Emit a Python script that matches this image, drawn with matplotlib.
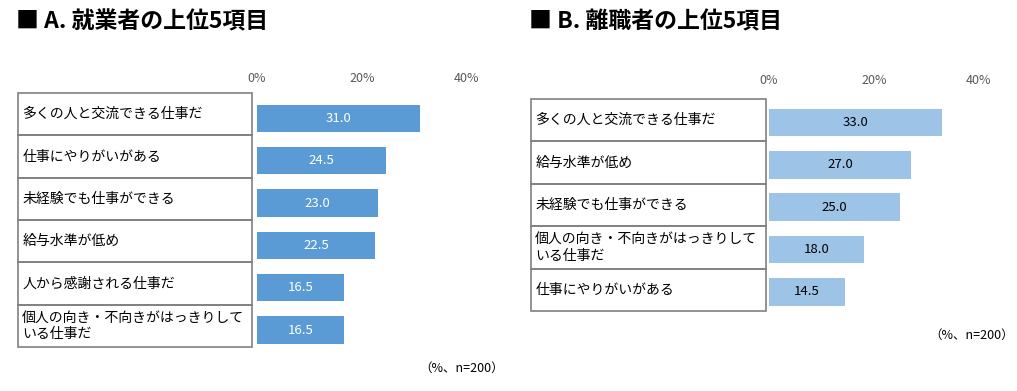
import matplotlib
matplotlib.use("Agg")
import matplotlib.pyplot as plt
from matplotlib.patches import Rectangle

plt.rcParams['font.family'] = ['Noto Sans CJK JP', 'DejaVu Sans']

W, H = 1017, 391

titles = ['■ A. 就業者の上位5項目', '■ B. 離職者の上位5項目']
a_labels = ['多くの人と交流できる仕事だ', '仕事にやりがいがある', '未経験でも仕事ができる',
            '給与水準が低め', '人から感謝される仕事だ', '個人の向き・不向きがはっきりして\nいる仕事だ']
a_values = [31.0, 24.5, 23.0, 22.5, 16.5, 16.5]
b_labels = ['多くの人と交流できる仕事だ', '給与水準が低め', '未経験でも仕事ができる',
            '個人の向き・不向きがはっきりして\nいる仕事だ', '仕事にやりがいがある']
b_values = [33.0, 27.0, 25.0, 18.0, 14.5]
ticks = [0, 20, 40]
tick_labels = ['0%', '20%', '40%']
note = '（%、n=200）'


def rect(x0, y0, x1, y1):
    return [x0 / W, 1 - y1 / H, (x1 - x0) / W, (y1 - y0) / H]


fig = plt.figure(figsize=(W / 100, H / 100), dpi=100)


def panel(title, labels, values, tbl, bars, color, txtcolor, offset, pad, title_x, note_xy):
    n = len(labels)
    # table of categories
    tax = fig.add_axes(rect(*tbl))
    tax.set_xlim(0, 1)
    tax.set_ylim(n, 0)
    tax.axis('off')
    for i, lab in enumerate(labels):
        tax.add_patch(Rectangle((0, i), 1, 1, fill=False, edgecolor='#808080', lw=1.2, clip_on=False))
        tax.text(0.018, i + 0.5, lab, va='center', ha='left', fontsize=10, color='#000000', linespacing=1.25)

    # bars
    bax = fig.add_axes(rect(*bars))
    y = [i + offset for i in range(n)]
    bax.barh(y, values, height=0.65, color=color)
    for yy, v in zip(y, values):
        bax.text(v / 2, yy, f'{v:.1f}', ha='center', va='center', fontsize=9.5, color=txtcolor)
    bax.set_xlim(0, 40)
    bax.set_ylim(n, 0)
    bax.xaxis.tick_top()
    bax.set_xticks(ticks)
    bax.set_xticklabels(tick_labels)
    bax.tick_params(axis='x', length=0, pad=pad, labelsize=9, labelcolor='#595959')
    bax.set_yticks([])
    for s in bax.spines.values():
        s.set_visible(False)

    fig.text(title_x / W, 1 - 22 / H, title, fontsize=16.5, fontweight='bold', va='center', ha='left')
    fig.text(note_xy[0] / W, 1 - note_xy[1] / H, note, fontsize=9, ha='center', va='center', color='#000000')


panel(titles[0], a_labels, a_values, (18, 93, 252, 347), (257, 93, 467, 347),
      '#5B9BD5', 'white', 0.6, 6, 16, (462, 368))
panel(titles[1], b_labels, b_values, (531, 99, 766, 311), (769, 99, 979, 311),
      '#9DC3E6', 'black', 0.55, 9, 529, (972, 335))

fig.savefig('out.png', dpi=100)
